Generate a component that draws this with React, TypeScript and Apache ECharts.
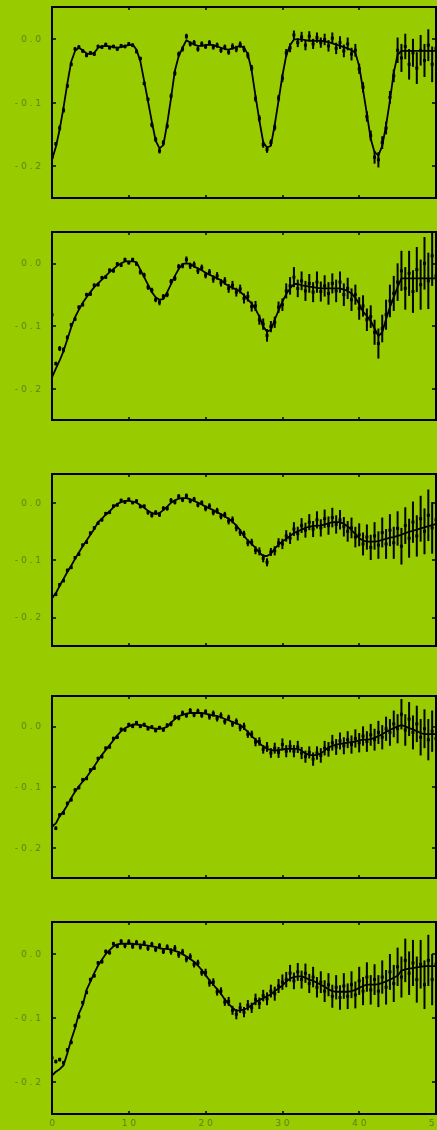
import { useEffect, useRef } from "react";
import * as echarts from "echarts";

// Sample positions shared by every panel
const X_GRID = [
  0, 0.5, 1, 1.5, 2, 2.5, 3, 3.5, 4, 4.5, 5, 5.5, 6, 6.5, 7, 7.5, 8, 8.5, 9, 9.5,
  10, 10.5, 11, 11.5, 12, 12.5, 13, 13.5, 14, 14.5, 15, 15.5, 16, 16.5, 17, 17.5, 18, 18.5, 19, 19.5,
  20, 20.5, 21, 21.5, 22, 22.5, 23, 23.5, 24, 24.5, 25, 25.5, 26, 26.5, 27, 27.5, 28, 28.5, 29, 29.5,
  30, 30.5, 31, 31.5, 32, 32.5, 33, 33.5, 34, 34.5, 35, 35.5, 36, 36.5, 37, 37.5, 38, 38.5, 39, 39.5,
  40, 40.5, 41, 41.5, 42, 42.5, 43, 43.5, 44, 44.5, 45, 45.5, 46, 46.5, 47, 47.5, 48, 48.5, 49, 49.5,
  50,
];

const X_TICK_LABELS = [0, 10, 20, 30, 40, 50];
const Y_TICKS = [-0.2, -0.1, 0];

// ---- Panel 1 ----
const FIT_1 = [
  -0.19, -0.17, -0.142, -0.108, -0.07, -0.036, -0.019, -0.014, -0.018, -0.023,
  -0.024, -0.022, -0.014, -0.012, -0.011, -0.012, -0.013, -0.014, -0.013, -0.011,
  -0.01, -0.009, -0.017, -0.035, -0.066, -0.098, -0.13, -0.16, -0.172, -0.167,
  -0.133, -0.093, -0.05, -0.027, -0.014, -0.002, -0.006, -0.009, -0.011, -0.011,
  -0.01, -0.009, -0.01, -0.012, -0.014, -0.016, -0.017, -0.015, -0.013, -0.011,
  -0.014, -0.024, -0.05, -0.09, -0.128, -0.162, -0.171, -0.168, -0.135, -0.097,
  -0.058, -0.026, -0.01, -0.001, -0.001, -0.001, -0.002, -0.003, -0.003, -0.003,
  -0.003, -0.004, -0.005, -0.007, -0.009, -0.011, -0.013, -0.015, -0.018, -0.022,
  -0.043, -0.08, -0.118, -0.157, -0.178, -0.183, -0.168, -0.136, -0.097, -0.053,
  -0.025, -0.019, -0.019, -0.019, -0.019, -0.019, -0.019, -0.019, -0.019, -0.019,
  -0.019,
];
const OBS_1 = [
  -0.186, -0.165, -0.14, -0.112, -0.074, -0.04, -0.016, -0.013, -0.019, -0.026,
  -0.022, -0.024, -0.012, -0.013, -0.009, -0.014, -0.012, -0.016, -0.011, -0.012,
  -0.008, -0.01, -0.02, -0.031, -0.07, -0.095, -0.135, -0.158, -0.176, -0.163,
  -0.137, -0.09, -0.054, -0.024, -0.016, 0.004, -0.008, -0.006, -0.016, -0.008,
  -0.012, -0.006, -0.013, -0.01, -0.018, -0.013, -0.021, -0.012, -0.016, -0.009,
  -0.016, -0.026, -0.046, -0.094, -0.125, -0.166, -0.174, -0.163, -0.139, -0.093,
  -0.062, -0.022, -0.014, 0.006, -0.006, 0.003, -0.01, 0.004, -0.008, 0.002,
  -0.006, -0.001, -0.011, 0.001, -0.015, -0.006, -0.019, -0.008, -0.024, -0.018,
  -0.047, -0.076, -0.122, -0.152, -0.186, -0.19, -0.163, -0.14, -0.092, -0.058,
  -0.018, -0.03, -0.012, -0.04, -0.022, -0.046, -0.018, -0.034, -0.01, -0.04,
  -0.015,
];
const ERR_1 = [
  0.003, 0.003, 0.004, 0.004, 0.003, 0.003, 0.003, 0.003, 0.003, 0.003,
  0.003, 0.003, 0.003, 0.003, 0.003, 0.003, 0.003, 0.003, 0.003, 0.003,
  0.003, 0.003, 0.003, 0.003, 0.003, 0.003, 0.004, 0.004, 0.004, 0.004,
  0.004, 0.004, 0.004, 0.004, 0.004, 0.004, 0.004, 0.004, 0.004, 0.004,
  0.004, 0.004, 0.004, 0.004, 0.004, 0.004, 0.004, 0.005, 0.005, 0.005,
  0.005, 0.005, 0.005, 0.005, 0.005, 0.005, 0.005, 0.005, 0.005, 0.005,
  0.006, 0.006, 0.007, 0.007, 0.007, 0.008, 0.008, 0.008, 0.008, 0.008,
  0.008, 0.009, 0.009, 0.009, 0.009, 0.01, 0.01, 0.01, 0.01, 0.01,
  0.008, 0.008, 0.008, 0.008, 0.01, 0.012, 0.01, 0.01, 0.01, 0.01,
  0.02, 0.022, 0.02, 0.024, 0.022, 0.025, 0.024, 0.026, 0.025, 0.028,
  0.03,
];

// ---- Panel 2 ----
const FIT_2 = [
  -0.182, -0.168, -0.155, -0.14, -0.121, -0.102, -0.086, -0.074, -0.063, -0.054,
  -0.046, -0.038, -0.032, -0.026, -0.02, -0.014, -0.009, -0.004, 0.0, 0.003,
  0.003, 0.003, 0.002, -0.01, -0.022, -0.034, -0.046, -0.054, -0.058, -0.057,
  -0.046, -0.033, -0.02, -0.009, -0.001, 0.0, -0.001, -0.005, -0.008, -0.011,
  -0.015, -0.018, -0.021, -0.024, -0.027, -0.032, -0.036, -0.039, -0.042, -0.045,
  -0.051, -0.058, -0.064, -0.073, -0.085, -0.101, -0.109, -0.106, -0.09, -0.075,
  -0.061, -0.049, -0.04, -0.033, -0.033, -0.035, -0.036, -0.037, -0.038, -0.039,
  -0.04, -0.04, -0.04, -0.04, -0.04, -0.04, -0.042, -0.044, -0.048, -0.055,
  -0.065, -0.077, -0.084, -0.092, -0.104, -0.116, -0.11, -0.089, -0.07, -0.054,
  -0.038, -0.024, -0.024, -0.024, -0.024, -0.024, -0.024, -0.024, -0.024, -0.024,
  -0.024,
];
const OBS_2 = [
  -0.082, -0.16, -0.136, -0.138, -0.118, -0.098, -0.089, -0.07, -0.066, -0.05,
  -0.049, -0.035, -0.034, -0.023, -0.022, -0.011, -0.012, -0.001, -0.003, 0.006,
  0.001, 0.006, -0.001, -0.014, -0.019, -0.038, -0.043, -0.058, -0.062, -0.053,
  -0.05, -0.029, -0.024, -0.005, -0.004, 0.006, -0.004, -0.002, -0.012, -0.007,
  -0.019, -0.014, -0.025, -0.02, -0.031, -0.028, -0.04, -0.035, -0.046, -0.041,
  -0.056, -0.053, -0.069, -0.068, -0.09, -0.097, -0.115, -0.101, -0.094, -0.07,
  -0.066, -0.044, -0.036, -0.022, -0.04, -0.028, -0.044, -0.032, -0.046, -0.03,
  -0.045, -0.036, -0.048, -0.032, -0.044, -0.03, -0.05, -0.04, -0.058, -0.05,
  -0.072, -0.068, -0.09, -0.085, -0.11, -0.128, -0.104, -0.082, -0.06, -0.048,
  -0.03, -0.012, -0.04, -0.016, -0.045, -0.01, -0.034, 0.0, -0.028, 0.012,
  -0.02,
];
const ERR_2 = [
  0.004, 0.003, 0.004, 0.004, 0.003, 0.003, 0.003, 0.003, 0.003, 0.003,
  0.003, 0.003, 0.003, 0.003, 0.003, 0.003, 0.003, 0.003, 0.003, 0.003,
  0.003, 0.003, 0.003, 0.004, 0.004, 0.004, 0.004, 0.004, 0.005, 0.004,
  0.004, 0.004, 0.004, 0.004, 0.004, 0.005, 0.005, 0.005, 0.005, 0.005,
  0.005, 0.005, 0.006, 0.006, 0.006, 0.006, 0.007, 0.007, 0.007, 0.007,
  0.008, 0.008, 0.008, 0.008, 0.008, 0.009, 0.01, 0.009, 0.009, 0.009,
  0.01, 0.012, 0.014, 0.016, 0.014, 0.015, 0.016, 0.015, 0.016, 0.017,
  0.016, 0.017, 0.018, 0.016, 0.018, 0.017, 0.018, 0.017, 0.018, 0.016,
  0.018, 0.017, 0.018, 0.018, 0.02, 0.024, 0.022, 0.024, 0.026, 0.028,
  0.03, 0.032, 0.034, 0.036, 0.034, 0.036, 0.04, 0.042, 0.045, 0.048,
  0.05,
];

// ---- Panel 3 ----
const FIT_3 = [
  -0.166, -0.158, -0.145, -0.133, -0.121, -0.11, -0.098, -0.087, -0.076, -0.066,
  -0.056, -0.046, -0.034, -0.028, -0.021, -0.015, -0.008, -0.002, 0.001, 0.003,
  0.003, 0.002, 0.0, -0.004, -0.009, -0.014, -0.018, -0.02, -0.018, -0.013,
  -0.007, 0.0, 0.004, 0.007, 0.008, 0.008, 0.006, 0.003, 0.0, -0.003,
  -0.007, -0.01, -0.013, -0.017, -0.02, -0.024, -0.028, -0.033, -0.04, -0.048,
  -0.058, -0.066, -0.072, -0.079, -0.087, -0.093, -0.093, -0.089, -0.08, -0.073,
  -0.068, -0.063, -0.058, -0.053, -0.05, -0.047, -0.044, -0.042, -0.041, -0.04,
  -0.04, -0.038, -0.036, -0.034, -0.034, -0.034, -0.037, -0.041, -0.048, -0.055,
  -0.062, -0.066, -0.068, -0.068, -0.068, -0.067, -0.065, -0.063, -0.061, -0.06,
  -0.058, -0.056, -0.053, -0.051, -0.049, -0.047, -0.045, -0.043, -0.041, -0.039,
  -0.037,
];
const OBS_3 = [
  -0.164, -0.16, -0.143, -0.136, -0.118, -0.113, -0.096, -0.09, -0.074, -0.069,
  -0.053, -0.044, -0.036, -0.03, -0.019, -0.017, -0.006, -0.004, 0.004, 0.001,
  0.006, 0.0, 0.003, -0.007, -0.006, -0.017, -0.022, -0.017, -0.021, -0.01,
  -0.01, 0.004, 0.001, 0.011, 0.005, 0.012, 0.003, 0.006, -0.004, 0.0,
  -0.01, -0.006, -0.017, -0.014, -0.024, -0.021, -0.032, -0.03, -0.044, -0.052,
  -0.055, -0.07, -0.069, -0.083, -0.085, -0.097, -0.104, -0.086, -0.084, -0.07,
  -0.072, -0.058, -0.062, -0.046, -0.054, -0.04, -0.048, -0.034, -0.046, -0.03,
  -0.044, -0.028, -0.04, -0.026, -0.038, -0.03, -0.042, -0.05, -0.044, -0.06,
  -0.056, -0.072, -0.06, -0.078, -0.058, -0.074, -0.052, -0.072, -0.048, -0.07,
  -0.045, -0.076, -0.04, -0.062, -0.034, -0.058, -0.028, -0.05, -0.022, -0.044,
  -0.03,
];
const ERR_3 = [
  0.003, 0.003, 0.003, 0.003, 0.003, 0.003, 0.003, 0.003, 0.003, 0.003,
  0.003, 0.003, 0.003, 0.003, 0.003, 0.003, 0.003, 0.003, 0.003, 0.003,
  0.003, 0.003, 0.003, 0.003, 0.003, 0.004, 0.004, 0.004, 0.004, 0.004,
  0.004, 0.004, 0.004, 0.004, 0.004, 0.004, 0.004, 0.004, 0.004, 0.004,
  0.005, 0.005, 0.005, 0.005, 0.005, 0.005, 0.006, 0.006, 0.006, 0.006,
  0.006, 0.006, 0.006, 0.007, 0.007, 0.007, 0.007, 0.007, 0.008, 0.008,
  0.009, 0.01, 0.01, 0.012, 0.012, 0.013, 0.013, 0.014, 0.014, 0.015,
  0.015, 0.016, 0.016, 0.017, 0.016, 0.017, 0.017, 0.018, 0.018, 0.018,
  0.02, 0.02, 0.022, 0.022, 0.024, 0.024, 0.026, 0.026, 0.028, 0.028,
  0.03, 0.032, 0.032, 0.034, 0.036, 0.036, 0.04, 0.04, 0.045, 0.045,
  0.05,
];

// ---- Panel 4 ----
const FIT_4 = [
  -0.165, -0.16, -0.148, -0.14, -0.13, -0.118, -0.108, -0.099, -0.091, -0.084,
  -0.075, -0.066, -0.056, -0.047, -0.039, -0.031, -0.023, -0.015, -0.008, -0.003,
  0.0, 0.003, 0.003, 0.002, 0.001, -0.001, -0.003, -0.004, -0.004, -0.003,
  -0.001, 0.006, 0.012, 0.017, 0.019, 0.021, 0.022, 0.022, 0.022, 0.022,
  0.021, 0.019, 0.018, 0.017, 0.015, 0.012, 0.01, 0.007, 0.005, 0.002,
  -0.003, -0.009, -0.016, -0.022, -0.028, -0.033, -0.037, -0.039, -0.04, -0.039,
  -0.038, -0.037, -0.037, -0.037, -0.037, -0.04, -0.045, -0.047, -0.048, -0.047,
  -0.045, -0.04, -0.035, -0.032, -0.03, -0.029, -0.028, -0.027, -0.026, -0.025,
  -0.023, -0.022, -0.022, -0.021, -0.019, -0.016, -0.013, -0.009, -0.006, -0.003,
  0.0, 0.002, 0.0, -0.003, -0.005, -0.008, -0.011, -0.013, -0.013, -0.013,
  -0.013,
];
const OBS_4 = [
  -0.163, -0.168, -0.146, -0.143, -0.127, -0.121, -0.105, -0.101, -0.088, -0.086,
  -0.072, -0.069, -0.053, -0.05, -0.036, -0.034, -0.02, -0.018, -0.005, -0.006,
  0.003, 0.0, 0.006, 0.0, 0.003, -0.004, -0.001, -0.007, -0.002, -0.006,
  0.002, 0.004, 0.015, 0.014, 0.022, 0.018, 0.026, 0.019, 0.025, 0.018,
  0.024, 0.016, 0.021, 0.013, 0.018, 0.008, 0.014, 0.004, 0.008, -0.002,
  0.0, -0.013, -0.013, -0.026, -0.025, -0.038, -0.034, -0.044, -0.036, -0.043,
  -0.03, -0.041, -0.033, -0.041, -0.034, -0.044, -0.05, -0.043, -0.054, -0.044,
  -0.048, -0.036, -0.038, -0.027, -0.034, -0.024, -0.032, -0.022, -0.03, -0.02,
  -0.027, -0.016, -0.025, -0.014, -0.022, -0.01, -0.018, -0.004, -0.01, 0.004,
  -0.004, 0.02, -0.006, 0.012, -0.01, 0.004, -0.018, -0.004, -0.022, -0.008,
  -0.02,
];
const ERR_4 = [
  0.003, 0.003, 0.003, 0.003, 0.003, 0.003, 0.003, 0.003, 0.003, 0.003,
  0.003, 0.003, 0.003, 0.003, 0.003, 0.003, 0.003, 0.003, 0.003, 0.003,
  0.003, 0.003, 0.003, 0.003, 0.003, 0.003, 0.003, 0.003, 0.003, 0.003,
  0.003, 0.004, 0.004, 0.004, 0.004, 0.004, 0.004, 0.004, 0.004, 0.004,
  0.004, 0.005, 0.005, 0.005, 0.005, 0.005, 0.005, 0.005, 0.005, 0.006,
  0.006, 0.006, 0.006, 0.007, 0.007, 0.007, 0.008, 0.008, 0.009, 0.009,
  0.01, 0.01, 0.01, 0.01, 0.01, 0.01, 0.01, 0.01, 0.011, 0.011,
  0.012, 0.012, 0.012, 0.013, 0.013, 0.014, 0.014, 0.014, 0.015, 0.015,
  0.016, 0.016, 0.017, 0.018, 0.018, 0.019, 0.02, 0.02, 0.022, 0.022,
  0.024, 0.025, 0.026, 0.028, 0.028, 0.03, 0.03, 0.032, 0.034, 0.034,
  0.036,
];

// ---- Panel 5 ----
const FIT_5 = [
  -0.19, -0.184, -0.18, -0.174, -0.155, -0.134, -0.116, -0.093, -0.08, -0.056,
  -0.043, -0.03, -0.018, -0.009, 0.0, 0.006, 0.012, 0.015, 0.016, 0.016,
  0.016, 0.016, 0.015, 0.015, 0.014, 0.013, 0.012, 0.011, 0.009, 0.008,
  0.008, 0.007, 0.005, 0.003, 0.0, -0.004, -0.008, -0.012, -0.018, -0.025,
  -0.033, -0.041, -0.048, -0.055, -0.062, -0.071, -0.078, -0.084, -0.089, -0.088,
  -0.087, -0.084, -0.08, -0.075, -0.072, -0.069, -0.066, -0.063, -0.058, -0.054,
  -0.049, -0.043, -0.038, -0.036, -0.035, -0.035, -0.037, -0.04, -0.042, -0.045,
  -0.048, -0.051, -0.055, -0.058, -0.059, -0.059, -0.059, -0.059, -0.058, -0.056,
  -0.053, -0.05, -0.048, -0.048, -0.048, -0.047, -0.045, -0.043, -0.04, -0.037,
  -0.034, -0.026, -0.024, -0.023, -0.022, -0.021, -0.02, -0.019, -0.019, -0.019,
  -0.019,
];
const OBS_5 = [
  -0.162, -0.168, -0.165, -0.17, -0.15, -0.138, -0.112, -0.098, -0.076, -0.06,
  -0.04, -0.034, -0.014, -0.012, 0.004, 0.002, 0.016, 0.012, 0.02, 0.013,
  0.019, 0.012, 0.018, 0.011, 0.017, 0.009, 0.015, 0.007, 0.013, 0.004,
  0.011, 0.004, 0.009, -0.001, 0.003, -0.008, -0.004, -0.016, -0.014, -0.029,
  -0.029, -0.045, -0.044, -0.059, -0.058, -0.075, -0.074, -0.088, -0.094, -0.084,
  -0.091, -0.08, -0.084, -0.071, -0.077, -0.065, -0.07, -0.058, -0.062, -0.05,
  -0.044, -0.04, -0.03, -0.042, -0.028, -0.04, -0.03, -0.046, -0.036, -0.052,
  -0.044, -0.058, -0.048, -0.066, -0.052, -0.068, -0.05, -0.066, -0.048, -0.064,
  -0.042, -0.058, -0.036, -0.056, -0.04, -0.058, -0.036, -0.052, -0.028, -0.046,
  -0.02, -0.036, -0.01, -0.03, -0.014, -0.04, -0.016, -0.048, -0.01, -0.04,
  -0.016,
];
const ERR_5 = [
  0.003, 0.003, 0.003, 0.003, 0.003, 0.003, 0.003, 0.003, 0.003, 0.003,
  0.003, 0.003, 0.003, 0.003, 0.003, 0.003, 0.003, 0.003, 0.003, 0.004,
  0.004, 0.004, 0.004, 0.004, 0.004, 0.004, 0.004, 0.004, 0.004, 0.004,
  0.004, 0.005, 0.005, 0.005, 0.005, 0.005, 0.005, 0.005, 0.005, 0.005,
  0.006, 0.006, 0.006, 0.006, 0.006, 0.006, 0.007, 0.007, 0.008, 0.008,
  0.008, 0.008, 0.008, 0.009, 0.009, 0.009, 0.01, 0.01, 0.011, 0.011,
  0.012, 0.012, 0.013, 0.013, 0.014, 0.014, 0.015, 0.015, 0.016, 0.016,
  0.017, 0.017, 0.018, 0.018, 0.019, 0.019, 0.02, 0.02, 0.021, 0.021,
  0.022, 0.022, 0.023, 0.023, 0.024, 0.025, 0.026, 0.027, 0.028, 0.029,
  0.03, 0.032, 0.034, 0.034, 0.036, 0.036, 0.038, 0.038, 0.04, 0.04,
  0.042,
];

const PANELS = [
  { fit: FIT_1, obs: OBS_1, err: ERR_1 },
  { fit: FIT_2, obs: OBS_2, err: ERR_2 },
  { fit: FIT_3, obs: OBS_3, err: ERR_3 },
  { fit: FIT_4, obs: OBS_4, err: ERR_4 },
  { fit: FIT_5, obs: OBS_5, err: ERR_5 },
];

// Plot frames (pixels)
const FRAMES = [
  { top: 7, height: 191 },
  { top: 232, height: 188 },
  { top: 474, height: 172 },
  { top: 696, height: 182 },
  { top: 922, height: 192 },
];

const BG = "#99cc00";
const INK = "#000000";
const LABEL = "#64801a";
const FONT = "DejaVu Sans";

const spaced = (s: string) => s.split("").join(" ");

function buildOption() {
  const grid: any[] = [];
  const xAxis: any[] = [];
  const yAxis: any[] = [];
  const series: any[] = [];
  const last = PANELS.length - 1;

  const frameLine = { show: true, onZero: false, lineStyle: { color: INK, width: 2 } };

  PANELS.forEach((p, i) => {
    const f = FRAMES[i];
    grid.push({
      left: 52,
      width: 384,
      top: f.top,
      height: f.height,
      show: false,
      containLabel: false,
      outerBoundsMode: "none",
    });

    ["bottom", "top"].forEach((pos) => {
      xAxis.push({
        type: "value",
        gridIndex: i,
        position: pos,
        min: 0,
        max: 50,
        interval: 10,
        axisLine: frameLine,
        axisTick: { show: true, inside: true, length: 3, lineStyle: { color: INK, width: 1.5 } },
        axisLabel: {
          show: pos === "bottom" && i === last,
          customValues: X_TICK_LABELS,
          color: LABEL,
          fontSize: 9,
          fontFamily: FONT,
          margin: 4,
          formatter: (v: number) => spaced(String(v)),
        },
        splitLine: { show: false },
      });
    });

    ["left", "right"].forEach((pos) => {
      yAxis.push({
        type: "value",
        gridIndex: i,
        position: pos,
        min: -0.25,
        max: 0.05,
        axisLine: frameLine,
        axisTick: {
          show: true,
          inside: true,
          length: 4,
          customValues: Y_TICKS,
          lineStyle: { color: INK, width: 1.5 },
        },
        axisLabel: {
          show: pos === "left",
          customValues: Y_TICKS,
          color: LABEL,
          fontSize: 9,
          fontFamily: FONT,
          margin: 11,
          formatter: (v: number) => spaced(v.toFixed(1)),
        },
        splitLine: { show: false },
      });
    });

    // measured points with error bars
    series.push({
      type: "custom",
      xAxisIndex: 2 * i,
      yAxisIndex: 2 * i,
      clip: true,
      z: 2,
      encode: { x: 0, y: 1 },
      data: X_GRID.map((x, k) => [x, p.obs[k], p.err[k]]),
      renderItem: (_params: any, api: any) => {
        const x = api.value(0);
        const y = api.value(1);
        const e = api.value(2);
        const hi = api.coord([x, y + e]);
        const lo = api.coord([x, y - e]);
        const c = api.coord([x, y]);
        return {
          type: "group",
          children: [
            {
              type: "line",
              shape: { x1: hi[0], y1: hi[1], x2: lo[0], y2: lo[1] },
              style: { stroke: INK, lineWidth: 2 },
            },
            {
              type: "rect",
              shape: { x: c[0] - 1.5, y: c[1] - 1.5, width: 3, height: 3 },
              style: { fill: INK },
            },
          ],
        };
      },
    });

    // model curve
    series.push({
      type: "line",
      xAxisIndex: 2 * i,
      yAxisIndex: 2 * i,
      clip: true,
      z: 3,
      symbol: "none",
      showSymbol: false,
      lineStyle: { color: INK, width: 1.8 },
      data: X_GRID.map((x, k) => [x, p.fit[k]]),
    });
  });

  return {
    animation: false,
    backgroundColor: BG,
    grid,
    xAxis,
    yAxis,
    series,
  };
}

export default function App() {
  const ref = useRef<HTMLDivElement>(null);

  useEffect(() => {
    if (!ref.current) return;
    const chart = echarts.init(ref.current, null, { renderer: "svg" });
    chart.setOption(buildOption());
    return () => chart.dispose();
  }, []);

  return (
    <div
      ref={ref}
      style={{ position: "absolute", left: 0, top: 0, width: 437, height: 1130, background: BG }}
    />
  );
}
